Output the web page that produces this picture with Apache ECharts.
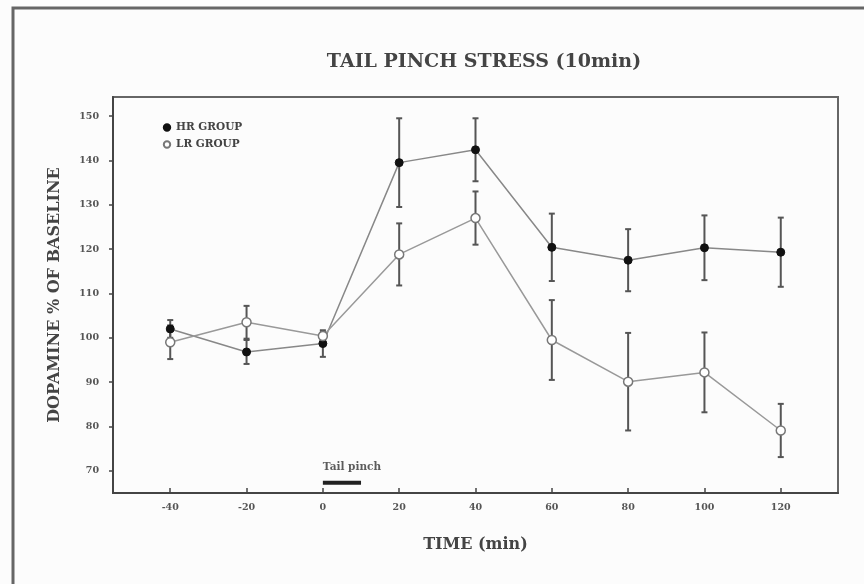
<!DOCTYPE html>
<html>
<head>
<meta charset="utf-8">
<script src="https://cdn.jsdelivr.net/npm/echarts@6/dist/echarts.min.js"></script>
<style>
html,body{margin:0;padding:0;background:#fcfcfc;}
#chart{width:864px;height:584px;}
</style>
</head>
<body>
<div id="chart"></div>
<script>
var times = [-40, -20, 0, 20, 40, 60, 80, 100, 120];
var hrMean = [102, 96.8, 98.7, 139.5, 142.4, 120.4, 117.5, 120.3, 119.3];
var hrErr  = [2, 2.7, 3, 10, 7.1, 7.6, 7, 7.3, 7.8];
var lrMean = [99, 103.5, 100.4, 118.8, 127, 99.5, 90.1, 92.2, 79.1];
var lrErr  = [3.8, 3.7, 1, 7, 6, 9, 11, 9, 6];
var tailPinch = [0, 10];
var seriesNames = ['HR GROUP', 'LR GROUP'];

function pairs(xs, ys) { return xs.map(function (x, i) { return [x, ys[i]]; }); }
function errData(xs, m, e) { return xs.map(function (x, i) { return [x, m[i] - e[i], m[i] + e[i]]; }); }

function errRender(params, api) {
  var x = api.value(0);
  var lo = api.coord([x, api.value(1)]);
  var hi = api.coord([x, api.value(2)]);
  var w = 3;
  var st = { stroke: '#555', lineWidth: 2 };
  return {
    type: 'group',
    children: [
      { type: 'line', shape: { x1: lo[0], y1: lo[1], x2: hi[0], y2: hi[1] }, style: st },
      { type: 'line', shape: { x1: lo[0] - w, y1: lo[1], x2: lo[0] + w, y2: lo[1] }, style: st },
      { type: 'line', shape: { x1: hi[0] - w, y1: hi[1], x2: hi[0] + w, y2: hi[1] }, style: st }
    ]
  };
}

var chart = echarts.init(document.getElementById('chart'));
var serif = 'DejaVu Serif';
chart.setOption({
  backgroundColor: '#fcfcfc',
  animation: false,
  graphic: [{
    type: 'polyline',
    shape: { points: [[13, 584], [13, 8], [864, 8]] },
    style: { stroke: '#666', lineWidth: 3, fill: null }
  }],
  title: {
    text: 'TAIL PINCH STRESS (10min)',
    left: 479, top: 48, textAlign: 'center',
    textStyle: { fontFamily: serif, fontSize: 19, fontWeight: 'bold', color: '#444' }
  },
  legend: {
    data: seriesNames,
    orient: 'vertical',
    left: 157, top: 117,
    itemWidth: 8, itemHeight: 8, itemGap: 6,
    textStyle: { fontFamily: serif, fontSize: 10.5, fontWeight: 'bold', color: '#444' }
  },
  grid: {
    left: 113, right: 26, top: 97, bottom: 91,
    show: true, borderColor: '#666', borderWidth: 2, backgroundColor: 'transparent'
  },
  xAxis: {
    type: 'value', min: -55, max: 135, splitNumber: 9,
    name: 'TIME (min)', nameLocation: 'middle', nameGap: 44,
    nameTextStyle: { fontFamily: serif, fontSize: 16, fontWeight: 'bold', color: '#444' },
    axisLine: { onZero: false, lineStyle: { color: '#444', width: 2 } },
    axisTick: { inside: true, length: 5, lineStyle: { color: '#444', width: 1.5 } },
    axisLabel: { showMinLabel: false, showMaxLabel: false, margin: 10,
      fontFamily: serif, fontSize: 9.5, fontWeight: 'bold', color: '#555' },
    splitLine: { show: false }
  },
  yAxis: {
    type: 'value', min: 65, max: 154.3, splitNumber: 9,
    name: 'DOPAMINE % OF BASELINE', nameLocation: 'middle', nameGap: 50, nameRotate: 90,
    nameTextStyle: { fontFamily: serif, fontSize: 16, fontWeight: 'bold', color: '#444' },
    axisLine: { onZero: false, lineStyle: { color: '#444', width: 2 } },
    axisTick: { length: 4, lineStyle: { color: '#444', width: 1.5 } },
    axisLabel: { showMinLabel: false, showMaxLabel: false, margin: 14,
      fontFamily: serif, fontSize: 9.5, fontWeight: 'bold', color: '#555' },
    splitLine: { show: false }
  },
  series: [
    { type: 'custom', name: 'HR err', renderItem: errRender, data: errData(times, hrMean, hrErr), z: 1, silent: true },
    { type: 'custom', name: 'LR err', renderItem: errRender, data: errData(times, lrMean, lrErr), z: 1, silent: true },
    {
      type: 'line', name: seriesNames[0], data: pairs(times, hrMean), z: 3,
      symbol: 'circle', symbolSize: 8,
      lineStyle: { color: '#888', width: 1.5 },
      itemStyle: { color: '#111', borderColor: '#111', borderWidth: 1 }
    },
    {
      type: 'line', name: seriesNames[1], data: pairs(times, lrMean), z: 3,
      symbol: 'circle', symbolSize: 9,
      lineStyle: { color: '#999', width: 1.5 },
      itemStyle: { color: '#fff', borderColor: '#777', borderWidth: 1.5 }
    },
    {
      type: 'line', name: 'tail', data: tailPinch.map(function (x) { return [x, 67.3]; }),
      symbol: 'none', lineStyle: { color: '#222', width: 4 }, z: 2, silent: true
    },
    {
      type: 'scatter', name: 'tailLabel', data: [[tailPinch[0], 70.9]],
      symbolSize: 0, silent: true,
      label: { show: true, formatter: 'Tail pinch', position: 'inside', align: 'left',
        fontFamily: serif, fontSize: 10.5, fontWeight: 'bold', color: '#333' }
    }
  ]
});
</script>
</body>
</html>
